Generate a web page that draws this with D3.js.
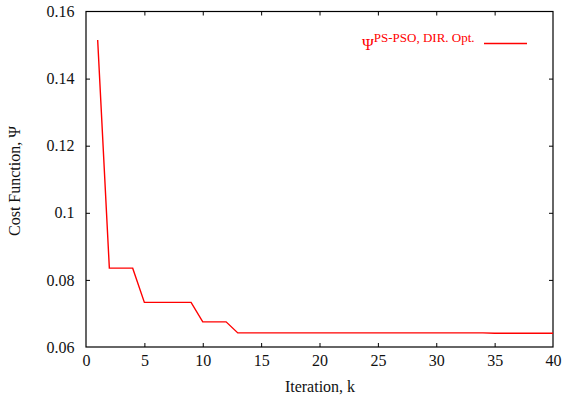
<!DOCTYPE html>
<html>
<head>
<meta charset="utf-8">
<script src="https://cdn.jsdelivr.net/npm/d3@7"></script>
<style>
  body { margin: 0; background: #fff; }
</style>
</head>
<body>
<div id="chart"></div>
<script>
// data
const iterations = [1, 2, 3, 4, 5, 6, 7, 8, 9, 10, 11, 12, 13, 14, 15, 20, 25, 30, 34, 35, 40];
const costValues = [0.1515, 0.0835, 0.0835, 0.0835, 0.0733, 0.0733, 0.0733, 0.0733, 0.0733,
                    0.0675, 0.0675, 0.0675, 0.0642, 0.0642, 0.0642, 0.0642, 0.0642, 0.0642,
                    0.0642, 0.0641, 0.0641];
const xTicks = [0, 5, 10, 15, 20, 25, 30, 35, 40];
const yTicks = [0.06, 0.08, 0.1, 0.12, 0.14, 0.16];

const FONT = '"Liberation Serif", "Times New Roman", Times, serif';
const W = 566, H = 403;
const margin = { top: 11.5, right: 13, bottom: 56, left: 86 };
const width = W - margin.left - margin.right;
const height = H - margin.top - margin.bottom;

const svg = d3.select("#chart").append("svg")
  .attr("width", W).attr("height", H)
  .attr("font-family", FONT);
const g = svg.append("g")
  .attr("transform", `translate(${margin.left},${margin.top})`);

const x = d3.scaleLinear().domain([0, 40]).range([0, width]);
const y = d3.scaleLinear().domain([0.06, 0.16]).range([height, 0]);

// axes, ticks inward and mirrored
const tl = 4;
const fmtY = d => String(+d.toFixed(2));
const axBottom = g.append("g").attr("transform", `translate(0,${height})`)
  .call(d3.axisBottom(x).tickValues(xTicks).tickSize(-tl).tickPadding(8));
const axTop = g.append("g")
  .call(d3.axisTop(x).tickValues(xTicks).tickSize(-tl).tickFormat(""));
const axLeft = g.append("g")
  .call(d3.axisLeft(y).tickValues(yTicks).tickSize(-tl).tickPadding(11.5).tickFormat(fmtY));
const axRight = g.append("g").attr("transform", `translate(${width},0)`)
  .call(d3.axisRight(y).tickValues(yTicks).tickSize(-tl).tickFormat(""));

[axBottom, axTop, axLeft, axRight].forEach(a => {
  a.attr("font-family", FONT).attr("font-size", 16);
  a.select(".domain").remove();
  a.selectAll(".tick line").attr("stroke", "#000").attr("stroke-width", 1);
  a.selectAll("text").attr("fill", "#111");
});
// end ticks sit on the frame
[axBottom, axTop].forEach(a => a.selectAll(".tick").filter(d => d === 0 || d === 40).select("line").remove());
[axLeft, axRight].forEach(a => a.selectAll(".tick").filter(d => d === 0.06 || d === 0.16).select("line").remove());

g.append("rect")
  .attr("width", width).attr("height", height)
  .attr("fill", "none").attr("stroke", "#000").attr("stroke-width", 1.2);

// line
g.append("path")
  .datum(iterations.map((k, i) => [k, costValues[i]]))
  .attr("fill", "none")
  .attr("stroke", "#ff0000")
  .attr("stroke-width", 1.4)
  .attr("d", d3.line().x(d => x(d[0])).y(d => y(d[1])));

// axis titles
svg.append("text")
  .attr("x", 320).attr("y", 391.5)
  .attr("text-anchor", "middle").attr("font-size", 16).attr("fill", "#111")
  .text("Iteration, k");

svg.append("text")
  .attr("transform", `translate(19.5,181) rotate(-90)`)
  .attr("text-anchor", "middle").attr("font-size", 16).attr("fill", "#111")
  .text("Cost Function, Ψ");

// legend
const leg = svg.append("g");
const lt = leg.append("text").attr("x", 362).attr("y", 49.5).attr("fill", "#ff0000");
lt.append("tspan").attr("font-size", 16).text("Ψ");
lt.append("tspan").attr("font-size", 13).attr("dy", -8).text("PS-PSO, DIR. Opt.");
leg.append("line")
  .attr("x1", 484).attr("x2", 527).attr("y1", 43.5).attr("y2", 43.5)
  .attr("stroke", "#ff0000").attr("stroke-width", 1.4);
</script>
</body>
</html>
